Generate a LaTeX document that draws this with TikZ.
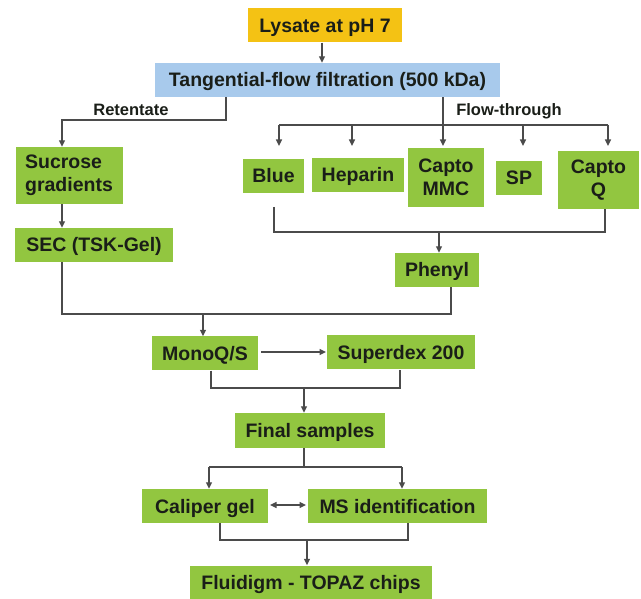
\documentclass[tikz,border=0pt]{standalone}
\usepackage{fontspec}
\setmainfont{Liberation Sans}
\usetikzlibrary{arrows.meta}
\definecolor{boxgreen}{RGB}{146,198,64}
\definecolor{boxgold}{RGB}{244,194,20}
\definecolor{boxblue}{RGB}{168,202,236}
\definecolor{txt}{RGB}{26,30,24}
\definecolor{lnc}{RGB}{75,75,75}
\begin{document}
\begin{tikzpicture}[x=1pt,y=-1pt,
  box/.style={fill=boxgreen, inner sep=0pt, align=center,
    font=\fontsize{19.5}{23}\selectfont\bfseries, text=txt},
  one/.style={text height=14pt, text depth=0pt},
  lbl/.style={inner sep=0pt, font=\fontsize{16.5}{19}\selectfont\bfseries, text=txt},
  ln/.style={draw=lnc, line width=1.3pt},
  arr/.style={ln, -{Triangle[length=6.5pt,width=6pt]}},
  darr/.style={ln, {Triangle[length=6.5pt,width=6pt]}-{Triangle[length=6.5pt,width=6pt]}}
]
\useasboundingbox (0,0) rectangle (641,599);

% nodes
\node[box, one, fill=boxgold, minimum width=154pt, minimum height=34pt] (lys) at (325,25.5) {Lysate at pH 7};
\node[box, one, fill=boxblue, minimum width=345pt, minimum height=34pt] (tff) at (327.5,80) {Tangential-flow filtration (500 kDa)};
\node[box, align=left, minimum width=107pt, minimum height=57pt] (suc) at (69,175.5) {Sucrose\\gradients};
\node[box, one, minimum width=158pt, minimum height=34pt] (sec) at (94,245) {SEC (TSK-Gel)};
\node[box, one, minimum width=61pt, minimum height=34pt] (blue) at (273.5,176) {Blue};
\node[box, one, minimum width=92pt, minimum height=34pt] (hep) at (358,175) {Heparin};
\node[box, minimum width=76pt, minimum height=59pt] (mmc) at (446,177.5) {Capto\\MMC};
\node[box, one, minimum width=46pt, minimum height=34pt] (sp) at (519,178) {SP};
\node[box, minimum width=81pt, minimum height=58pt] (cq) at (598.5,180) {Capto\\Q};
\node[box, one, minimum width=84pt, minimum height=34pt] (phe) at (437,270) {Phenyl};
\node[box, one, minimum width=106pt, minimum height=34pt] (mono) at (205,353.5) {MonoQ/S};
\node[box, one, minimum width=148pt, minimum height=34pt] (sup) at (401,352.5) {Superdex 200};
\node[box, one, minimum width=150pt, minimum height=35pt] (fin) at (310,430.5) {Final samples};
\node[box, one, minimum width=126pt, minimum height=34pt] (cal) at (205,506) {Caliper gel};
\node[box, one, minimum width=179pt, minimum height=34pt] (ms) at (397.5,506) {MS identification};
\node[box, one, minimum width=242pt, minimum height=34pt] (flu) at (311,582.5) {Fluidigm - TOPAZ chips};

\node[lbl] (ret) at (131,110) {Retentate};
\node[lbl] (ftl) at (509,111) {Flow-through};

% lysate -> tff
\draw[arr] (lys.south -| 322,0) -- (tff.north -| 322,0);

% retentate
\coordinate (r1) at (226,120);
\coordinate (r2) at (62,120);
\draw[arr] (tff.south -| r1) -- (r1) -- (r2) -- (r2 |- suc.north);

% flow-through bus
\coordinate (f0) at (443,125);
\coordinate (fL) at (279,125);
\coordinate (fR) at (608,125);
\draw[ln] (tff.south -| f0) -- (f0);
\draw[ln] (fL) -- (fR);
\coordinate (tb) at (279,146);
\coordinate (th) at (352,146);
\coordinate (tm) at (443,146);
\coordinate (ts) at (523,146);
\coordinate (tq) at (608,146);
\draw[arr] (fL) -- (tb);
\draw[arr] (fL -| th) -- (th);
\draw[arr] (f0) -- (tm);
\draw[arr] (fL -| ts) -- (ts);
\draw[arr] (fR) -- (tq);

% sucrose -> sec
\draw[arr] (suc.south -| r2) -- (sec.north -| r2);

% bracket blue .. capto Q -> phenyl
\coordinate (b1) at (274,207);
\coordinate (b2) at (274,232);
\coordinate (b3) at (605,232);
\coordinate (b4) at (439,232);
\draw[ln] (b1) -- (b2) -- (b3) -- (cq.south -| b3);
\draw[arr] (b4) -- (phe.north -| b4);

% sec + phenyl -> monoQ
\coordinate (s1) at (62,314);
\coordinate (s2) at (451,314);
\coordinate (s3) at (203,314);
\draw[ln] (sec.south -| s1) -- (s1) -- (s2) -- (phe.south -| s2);
\draw[arr] (s3) -- (mono.north -| s3);

% monoQ -> superdex
\coordinate (m1) at (261,352);
\coordinate (m2) at (326,352);
\draw[arr] (m1) -- (m2);

% bracket -> final
\coordinate (k1) at (211,388);
\coordinate (k2) at (400,388);
\coordinate (k3) at (304,388);
\draw[ln] (mono.south -| k1) -- (k1) -- (k2) -- (sup.south -| k2);
\draw[arr] (k3) -- (fin.north -| k3);

% final -> caliper / ms
\coordinate (n0) at (304,467);
\coordinate (n1) at (209,467);
\coordinate (n2) at (402,467);
\draw[ln] (fin.south -| n0) -- (n0);
\draw[ln] (n1) -- (n2);
\draw[arr] (n1) -- (cal.north -| n1);
\draw[arr] (n2) -- (ms.north -| n2);

% caliper <-> ms
\coordinate (d1) at (270,505);
\coordinate (d2) at (306,505);
\draw[darr] (d1) -- (d2);

% bracket -> fluidigm
\coordinate (e1) at (220,540);
\coordinate (e2) at (408,540);
\coordinate (e3) at (307,540);
\draw[ln] (cal.south -| e1) -- (e1) -- (e2) -- (ms.south -| e2);
\draw[arr] (e3) -- (flu.north -| e3);
\end{tikzpicture}
\end{document}
